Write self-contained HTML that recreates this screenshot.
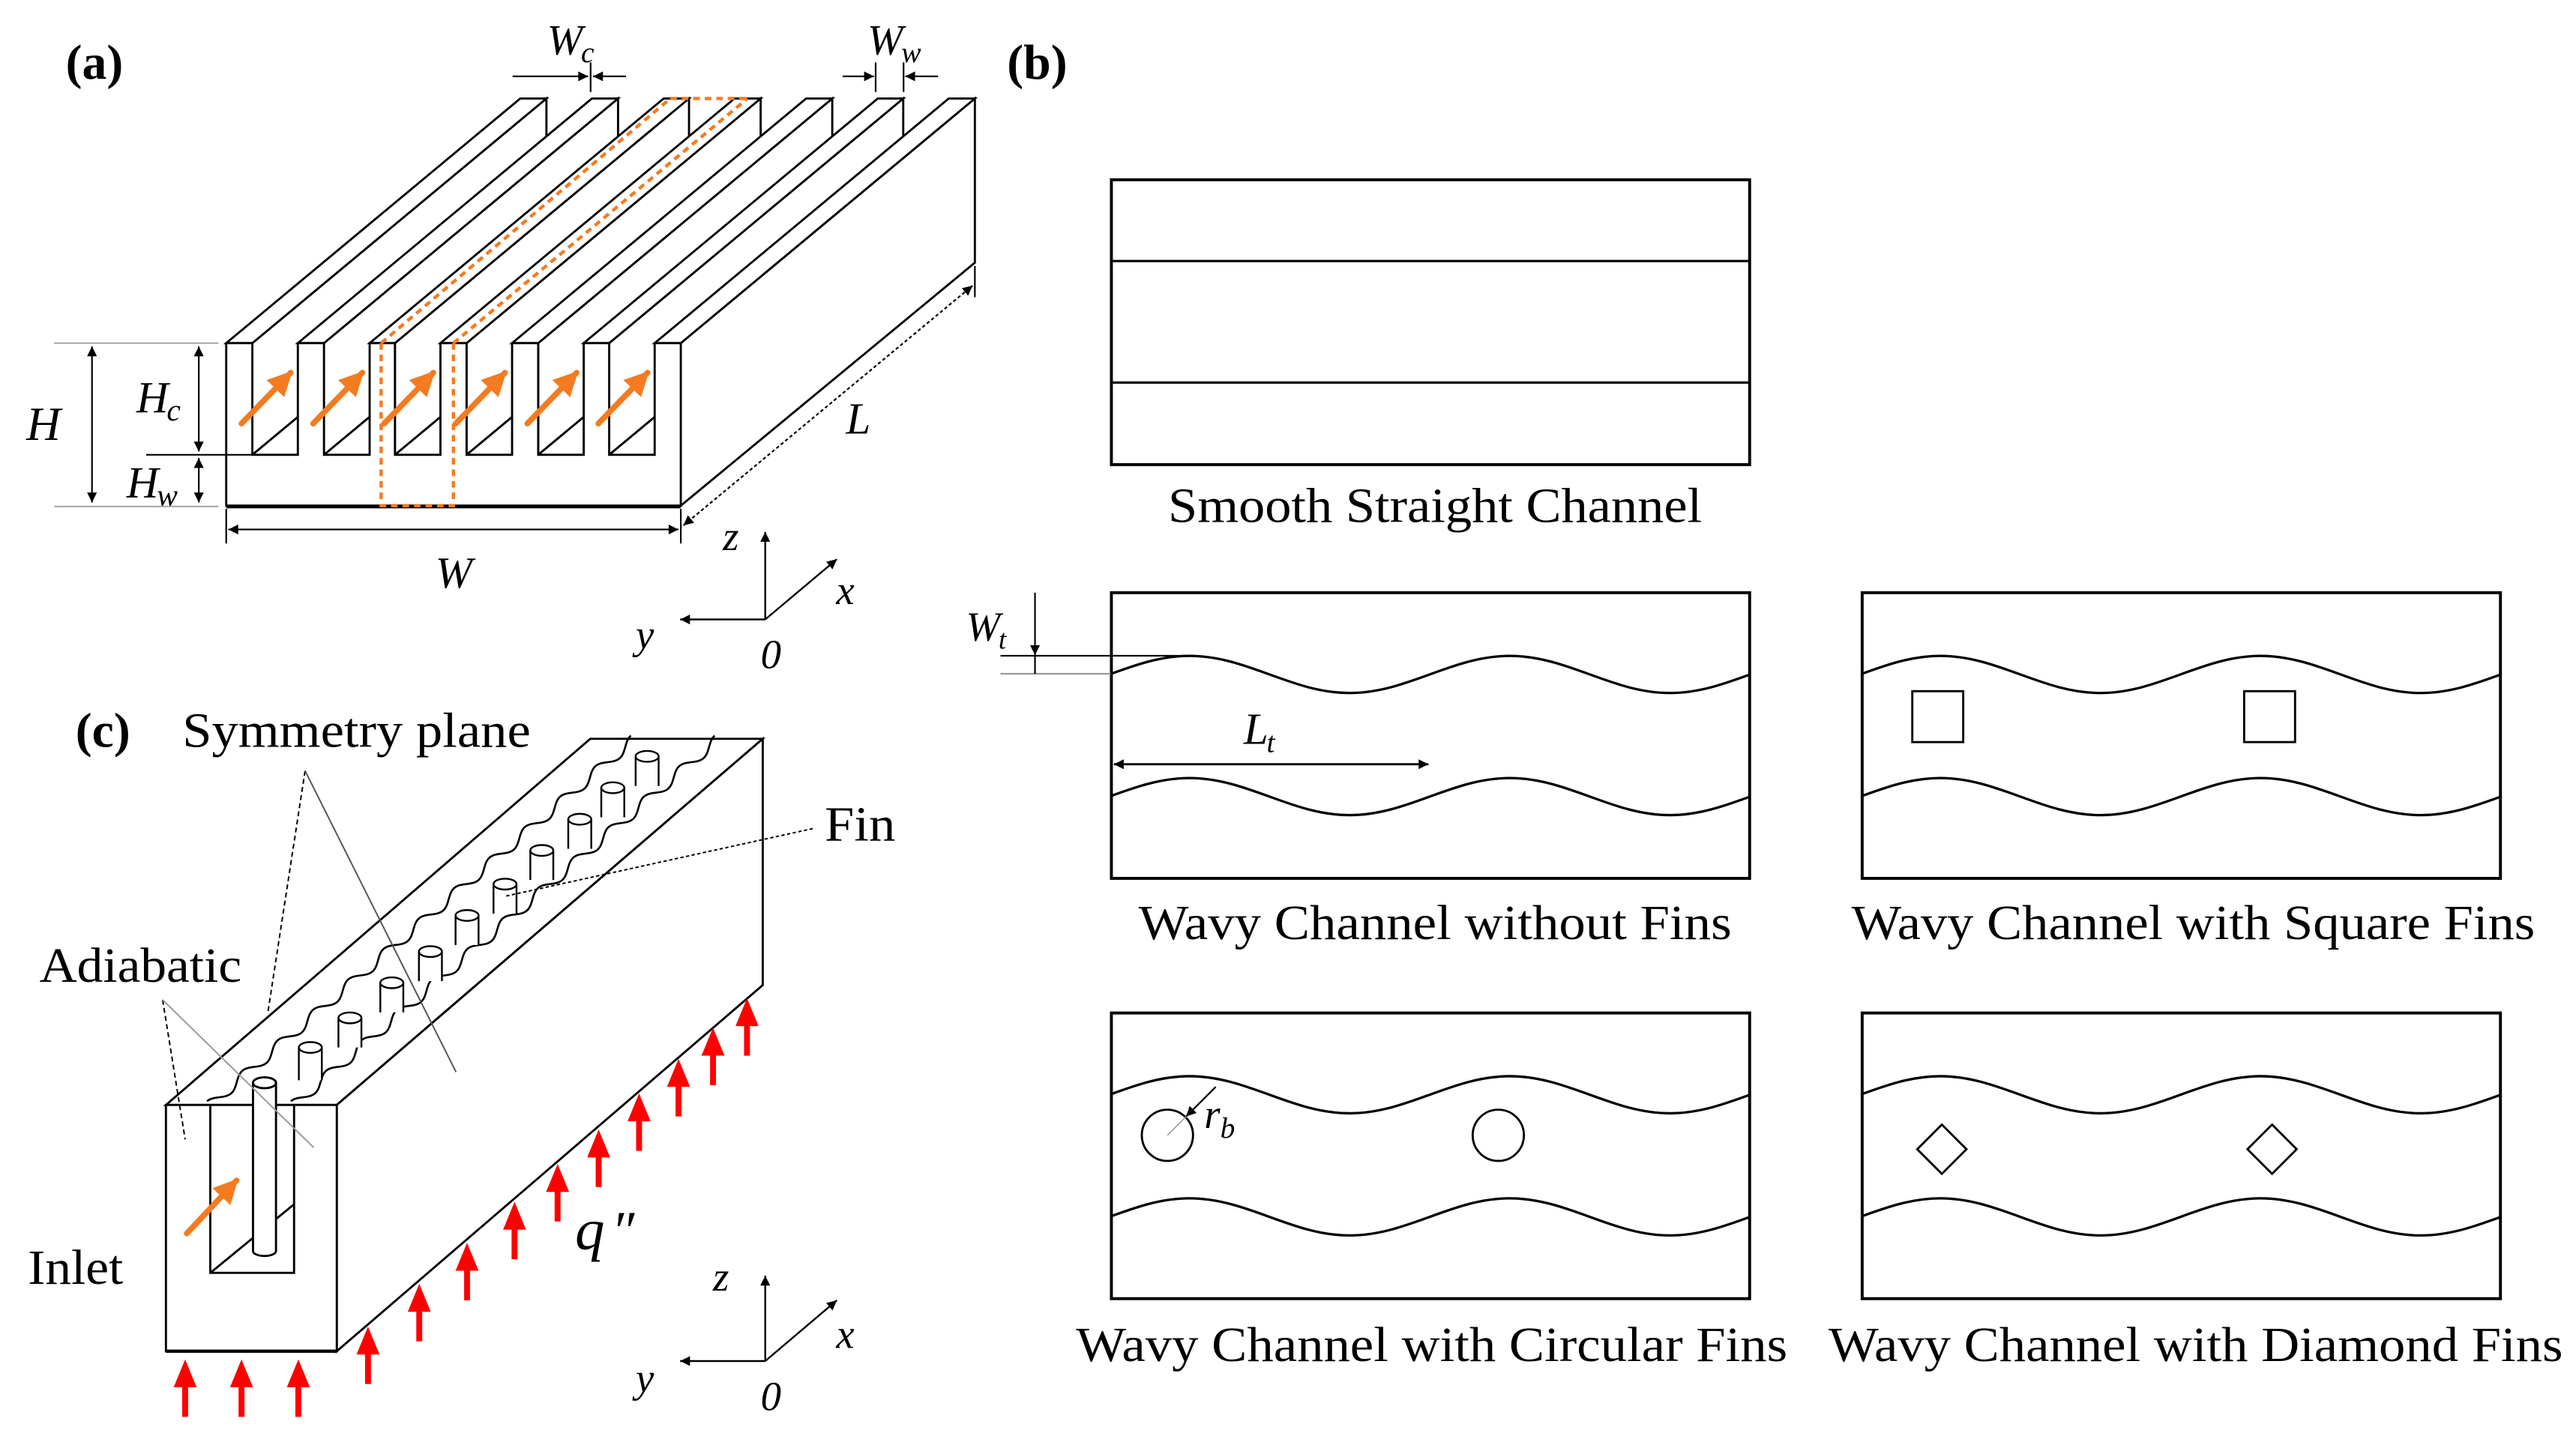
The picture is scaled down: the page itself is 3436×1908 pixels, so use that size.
<!DOCTYPE html>
<html><head><meta charset="utf-8">
<style>
html,body{margin:0;padding:0;background:#fff;}
svg{display:block;}
svg text{font-family:"Liberation Serif","Times New Roman",Times,serif;fill:#000;}
.i{font-style:italic;}
</style></head>
<body>
<svg width="3436" height="1908" viewBox="0 0 1568 871" preserveAspectRatio="none" xmlns="http://www.w3.org/2000/svg" font-family="Liberation Serif, serif">
<defs>
<marker id="ka" viewBox="0 0 10 10" refX="10" refY="5" markerWidth="7" markerHeight="6" markerUnits="userSpaceOnUse" orient="auto-start-reverse"><path d="M0,0 L10,5 L0,10 z" fill="#000"/></marker>
<marker id="oa" viewBox="0 0 10 10" refX="9" refY="5" markerWidth="15" markerHeight="15" markerUnits="userSpaceOnUse" orient="auto"><path d="M0,0 L10,5 L0,10 z" fill="#f47b20"/></marker>
<clipPath id="cw"><rect x="0" y="-30" width="389" height="60"/></clipPath>
<path id="wv" d="M-49.5,11.3 C-14,11.3 12.5,-11.3 48,-11.3 S110,11.3 145.5,11.3 S207.5,-11.3 243,-11.3 S305,11.3 340.5,11.3 S402.5,-11.3 438,-11.3" fill="none" stroke="#000" stroke-width="1.5"/>
<path id="ww" d="M0,-3 C5.2,-3 9,3 14.2,3 S23.2,-3 28.4,-3 S37.4,3 42.6,3 S51.6,-3 56.8,-3 S65.8,3 71,3 S80,-3 85.2,-3 S94.2,3 99.4,3 S108.4,-3 113.6,-3 S122.6,3 127.8,3 S136.8,-3 142,-3 S151,3 156.2,3 S165.2,-3 170.4,-3 S179.4,3 184.6,3 S193.6,-3 198.8,-3 S207.8,3 213,3 S222,-3 227.2,-3 S236.2,3 241.4,3 S250.4,-3 255.6,-3 S264.6,3 269.8,3 S278.8,-3 284,-3 S293,3 298.2,3 S307.2,-3 312.4,-3 S321.4,3 326.6,3 S335.6,-3 340.8,-3" fill="none" stroke="#000" stroke-width="1.2"/>
</defs>

<!-- ================= (a) ================= -->
<text x="40" y="48" font-size="30" font-weight="bold">(a)</text>
<g stroke="#000" stroke-width="1.3" fill="#fff" stroke-linejoin="miter">
<polygon points="153.6,209 332.6,60 332.6,128 153.6,277"/>
<polygon points="137.7,209 153.6,209 332.6,60 316.7,60"/>
<polygon points="197.2,209 376.2,60 376.2,128 197.2,277"/>
<polygon points="181.3,209 197.2,209 376.2,60 360.3,60"/>
<polygon points="240.4,209 419.4,60 419.4,128 240.4,277"/>
<polygon points="225,209 240.4,209 419.4,60 404,60"/>
<polygon points="284,209 463,60 463,128 284,277"/>
<polygon points="268.1,209 284,209 463,60 447.1,60"/>
<polygon points="327.6,209 506.6,60 506.6,128 327.6,277"/>
<polygon points="311.7,209 327.6,209 506.6,60 490.7,60"/>
<polygon points="370.8,209 549.8,60 549.8,128 370.8,277"/>
<polygon points="355.3,209 370.8,209 549.8,60 534.3,60"/>
<polygon points="414.4,209 593.4,60 593.4,160 414.4,308"/>
<polygon points="398.5,209 414.4,209 593.4,60 577.5,60"/>
<path d="M137.7,308 V209 H153.6 V277 H181.3 V209 H197.2 V277 H225 V209 H240.4 V277 H268.1 V209 H284 V277 H311.7 V209 H327.6 V277 H355.3 V209 H370.8 V277 H398.5 V209 H414.4 V308 Z"/>
</g>
<line x1="137.7" y1="308.5" x2="414.4" y2="308.5" stroke="#000" stroke-width="2.2"/>
<g stroke="#000" stroke-width="1.2">
<line x1="153.6" y1="277" x2="181.3" y2="254"/>
<line x1="197.2" y1="277" x2="225" y2="254"/>
<line x1="240.4" y1="277" x2="268.1" y2="254"/>
<line x1="284" y1="277" x2="311.7" y2="254"/>
<line x1="327.6" y1="277" x2="355.3" y2="254"/>
<line x1="370.8" y1="277" x2="398.5" y2="254"/>
</g>
<g stroke="#f47b20" stroke-width="2" stroke-dasharray="4,3" fill="none">
<path d="M232,209 V308 H276 V209"/>
<line x1="232" y1="209" x2="408" y2="60"/>
<line x1="276" y1="209" x2="455" y2="60"/>
<line x1="408" y1="60" x2="455" y2="60"/>
</g>
<g stroke="#f47b20" stroke-width="3.5" stroke-linecap="round" marker-end="url(#oa)">
<line x1="147" y1="258" x2="177" y2="227"/>
<line x1="190.6" y1="258" x2="220.6" y2="227"/>
<line x1="233.8" y1="258" x2="263.8" y2="227"/>
<line x1="277.4" y1="258" x2="307.4" y2="227"/>
<line x1="321" y1="258" x2="351" y2="227"/>
<line x1="364.2" y1="258" x2="394.2" y2="227"/>
</g>
<g stroke="#aaa" stroke-width="1">
<line x1="33" y1="209" x2="133" y2="209"/>
<line x1="33" y1="308.5" x2="133" y2="308.5"/>
</g>
<g stroke="#000" stroke-width="1" fill="none">
<line x1="56" y1="211" x2="56" y2="306" marker-start="url(#ka)" marker-end="url(#ka)"/>
<line x1="121" y1="211" x2="121" y2="275" marker-start="url(#ka)" marker-end="url(#ka)"/>
<line x1="121" y1="279" x2="121" y2="306" marker-start="url(#ka)" marker-end="url(#ka)"/>
<line x1="89" y1="277" x2="153" y2="277"/>
<line x1="137.7" y1="310" x2="137.7" y2="331"/>
<line x1="414.4" y1="310" x2="414.4" y2="331"/>
<line x1="139" y1="322.5" x2="413" y2="322.5" marker-start="url(#ka)" marker-end="url(#ka)"/>
<line x1="593.4" y1="162" x2="593.4" y2="181"/>
<line x1="416" y1="320" x2="592" y2="174" stroke-dasharray="2,1.5" marker-start="url(#ka)" marker-end="url(#ka)"/>
<line x1="312" y1="46.5" x2="358" y2="46.5" marker-end="url(#ka)"/>
<line x1="381" y1="46.5" x2="361" y2="46.5" marker-end="url(#ka)"/>
<line x1="359.5" y1="38" x2="359.5" y2="56"/>
<line x1="513" y1="46.5" x2="532" y2="46.5" marker-end="url(#ka)"/>
<line x1="571" y1="46.5" x2="551" y2="46.5" marker-end="url(#ka)"/>
<line x1="533" y1="38" x2="533" y2="56"/>
<line x1="550" y1="38" x2="550" y2="56"/>
</g>
<text class="i" x="16" y="268" font-size="29">H</text>
<text class="i" x="83" y="251" font-size="27">H<tspan font-size="19" dy="5" dx="-1">c</tspan></text>
<text class="i" x="77" y="303" font-size="27">H<tspan font-size="19" dy="5" dx="-1">w</tspan></text>
<text class="i" x="515" y="264" font-size="27">L</text>
<text class="i" x="265" y="358" font-size="27">W</text>
<text class="i" x="333" y="33" font-size="26">W<tspan font-size="18" dy="5" dx="-1">c</tspan></text>
<text class="i" x="528" y="33" font-size="26">W<tspan font-size="18" dy="5" dx="-1">w</tspan></text>
<g stroke="#000" stroke-width="1.1" fill="none">
<line x1="465.8" y1="377.3" x2="465.8" y2="324" marker-end="url(#ka)"/>
<line x1="465.8" y1="377.3" x2="414" y2="377.3" marker-end="url(#ka)"/>
<line x1="465.8" y1="377.3" x2="509.4" y2="340.6" marker-end="url(#ka)"/>
</g>
<text class="i" x="440" y="335" font-size="25">z</text>
<text class="i" x="509" y="368" font-size="25">x</text>
<text class="i" x="387" y="395" font-size="25">y</text>
<text class="i" x="463" y="407" font-size="25">0</text>

<!-- ================= (b) ================= -->
<text x="613" y="48" font-size="30" font-weight="bold">(b)</text>
<g stroke="#000" stroke-width="1.8" fill="none">
<rect x="676.5" y="109.5" width="388.5" height="173.5"/>
<line x1="676.5" y1="159" x2="1065" y2="159" stroke-width="1.4"/>
<line x1="676.5" y1="233" x2="1065" y2="233" stroke-width="1.4"/>
<rect x="676.5" y="361" width="388.5" height="174"/>
<rect x="1133.5" y="361" width="388.5" height="174"/>
<rect x="676.5" y="617" width="388.5" height="174"/>
<rect x="1133.5" y="617" width="388.5" height="174"/>
</g>
<g transform="translate(676,410.8)"><use href="#wv" clip-path="url(#cw)"/></g>
<g transform="translate(676,485.2)"><use href="#wv" clip-path="url(#cw)"/></g>
<g transform="translate(1133,410.8)"><use href="#wv" clip-path="url(#cw)"/></g>
<g transform="translate(1133,485.2)"><use href="#wv" clip-path="url(#cw)"/></g>
<g transform="translate(676,666.8)"><use href="#wv" clip-path="url(#cw)"/></g>
<g transform="translate(676,741.2)"><use href="#wv" clip-path="url(#cw)"/></g>
<g transform="translate(1133,666.8)"><use href="#wv" clip-path="url(#cw)"/></g>
<g transform="translate(1133,741.2)"><use href="#wv" clip-path="url(#cw)"/></g>
<g stroke="#000" stroke-width="1.3" fill="none">
<rect x="1164" y="421" width="31" height="31"/>
<rect x="1366" y="421" width="31" height="31"/>
<circle cx="710.6" cy="691.5" r="15.6"/>
<circle cx="912" cy="691.5" r="15.6"/>
<polygon points="1182,685 1197,700 1182,715 1167,700"/>
<polygon points="1383,685 1398,700 1383,715 1368,700"/>
</g>
<line x1="710.6" y1="691.5" x2="740" y2="662" stroke="#999" stroke-width="0.7"/>
<line x1="740" y1="662" x2="722" y2="680" stroke="#000" stroke-width="1" marker-end="url(#ka)"/>
<text class="i" x="733" y="687" font-size="25">r<tspan font-size="18" dy="6" dx="0">b</tspan></text>
<g stroke="#000" stroke-width="1" fill="none">
<line x1="609" y1="399.4" x2="722" y2="399.4"/>
<line x1="609" y1="410.4" x2="676" y2="410.4" stroke="#999"/>
<line x1="630" y1="361" x2="630" y2="399" marker-end="url(#ka)"/>
<line x1="630" y1="399" x2="630" y2="410.4"/>
<line x1="678" y1="465.5" x2="869.5" y2="465.5" stroke-width="1.3" marker-start="url(#ka)" marker-end="url(#ka)"/>
</g>
<text class="i" x="588" y="390" font-size="25">W<tspan font-size="17" dy="5" dx="-1">t</tspan></text>
<text class="i" x="757" y="453" font-size="27">L<tspan font-size="18" dy="5" dx="-1">t</tspan></text>
<text x="711" y="318" font-size="30" textLength="325" lengthAdjust="spacingAndGlyphs">Smooth Straight Channel</text>
<text x="693" y="572" font-size="30" textLength="361" lengthAdjust="spacingAndGlyphs">Wavy Channel without Fins</text>
<text x="1127" y="572" font-size="30" textLength="416" lengthAdjust="spacingAndGlyphs">Wavy Channel with Square Fins</text>
<text x="655" y="829" font-size="30" textLength="433" lengthAdjust="spacingAndGlyphs">Wavy Channel with Circular Fins</text>
<text x="1113" y="829" font-size="30" textLength="447" lengthAdjust="spacingAndGlyphs">Wavy Channel with Diamond Fins</text>

<!-- ================= (c) ================= -->
<text x="46" y="455" font-size="30" font-weight="bold">(c)</text>
<g stroke="#000" stroke-width="1.3" fill="#fff">
<polygon points="101,673 205,673 464.3,450 359.3,450"/>
<polygon points="205,673 464.3,450 464.3,600 205,823"/>
</g>
<g transform="translate(128,673) rotate(-40.8)"><use href="#ww"/></g>
<g transform="translate(179,673) rotate(-40.8)"><use href="#ww"/></g>
<g stroke="#000" stroke-width="1.1" fill="#fff">
<g transform="translate(393.9,460.7)"><rect x="-7" y="0" width="14" height="18" stroke="none"/><path d="M-7,0 V18 M7,0 V18" fill="none"/><ellipse cx="0" cy="0" rx="7" ry="3.3"/></g>
<g transform="translate(373,479.8)"><rect x="-7" y="0" width="14" height="18" stroke="none"/><path d="M-7,0 V18 M7,0 V18" fill="none"/><ellipse cx="0" cy="0" rx="7" ry="3.3"/></g>
<g transform="translate(352.9,499)"><rect x="-7" y="0" width="14" height="18" stroke="none"/><path d="M-7,0 V18 M7,0 V18" fill="none"/><ellipse cx="0" cy="0" rx="7" ry="3.3"/></g>
<g transform="translate(329.8,518)"><rect x="-7" y="0" width="14" height="18" stroke="none"/><path d="M-7,0 V18 M7,0 V18" fill="none"/><ellipse cx="0" cy="0" rx="7" ry="3.3"/></g>
<g transform="translate(307.4,538.5)"><rect x="-7" y="0" width="14" height="18" stroke="none"/><path d="M-7,0 V18 M7,0 V18" fill="none"/><ellipse cx="0" cy="0" rx="7" ry="3.3"/></g>
<g transform="translate(284.3,557.6)"><rect x="-7" y="0" width="14" height="18" stroke="none"/><path d="M-7,0 V18 M7,0 V18" fill="none"/><ellipse cx="0" cy="0" rx="7" ry="3.3"/></g>
<g transform="translate(262,579.6)"><rect x="-7" y="0" width="14" height="18" stroke="none"/><path d="M-7,0 V18 M7,0 V18" fill="none"/><ellipse cx="0" cy="0" rx="7" ry="3.3"/></g>
<g transform="translate(238.5,598.6)"><rect x="-7" y="0" width="14" height="18" stroke="none"/><path d="M-7,0 V18 M7,0 V18" fill="none"/><ellipse cx="0" cy="0" rx="7" ry="3.3"/></g>
<g transform="translate(213,620)"><rect x="-7" y="0" width="14" height="18" stroke="none"/><path d="M-7,0 V18 M7,0 V18" fill="none"/><ellipse cx="0" cy="0" rx="7" ry="3.3"/></g>
<g transform="translate(188.9,638)"><rect x="-7" y="0" width="14" height="20" stroke="none"/><path d="M-7,0 V20 M7,0 V20" fill="none"/><ellipse cx="0" cy="0" rx="7" ry="3.3"/></g>
</g>
<g stroke="#000" stroke-width="1.3" fill="#fff">
<rect x="101" y="673" width="104" height="150"/>
<path d="M128,673 V775.3 H179 V673" fill="none"/>
<line x1="128" y1="775.3" x2="179" y2="733.5"/>
<path d="M154,659.5 V762 A7,3 0 0 0 168,762 V659.5 Z"/>
<ellipse cx="161" cy="659.5" rx="7" ry="3.3"/>
</g>
<line x1="101" y1="823" x2="205" y2="823" stroke="#000" stroke-width="2"/>
<line x1="113.7" y1="751.3" x2="144" y2="719" stroke="#f47b20" stroke-width="3.5" stroke-linecap="round" marker-end="url(#oa)"/>
<g fill="none" stroke-width="0.9">
<path d="M185.7,469.5 L163,617" stroke="#000" stroke-dasharray="3,2"/>
<line x1="185.7" y1="469.5" x2="277.6" y2="653" stroke="#555"/>
<path d="M99,609 L112.7,694" stroke="#000" stroke-dasharray="3,2"/>
<line x1="99" y1="609" x2="191" y2="699" stroke="#999"/>
<line x1="494.7" y1="504.7" x2="307" y2="546" stroke="#000" stroke-dasharray="2,1.5"/>
</g>
<g fill="#ff0000">
<g transform="translate(112.7,828)"><polygon points="0,0 -7,17 7,17"/><rect x="-1.8" y="16" width="3.6" height="19"/></g>
<g transform="translate(147,828)"><polygon points="0,0 -7,17 7,17"/><rect x="-1.8" y="16" width="3.6" height="19"/></g>
<g transform="translate(181.6,828)"><polygon points="0,0 -7,17 7,17"/><rect x="-1.8" y="16" width="3.6" height="19"/></g>
<g transform="translate(224,808)"><polygon points="0,0 -7,17 7,17"/><rect x="-1.8" y="16" width="3.6" height="19"/></g>
<g transform="translate(255.2,782)"><polygon points="0,0 -7,17 7,17"/><rect x="-1.8" y="16" width="3.6" height="19"/></g>
<g transform="translate(284.3,757)"><polygon points="0,0 -7,17 7,17"/><rect x="-1.8" y="16" width="3.6" height="19"/></g>
<g transform="translate(313.2,732)"><polygon points="0,0 -7,17 7,17"/><rect x="-1.8" y="16" width="3.6" height="19"/></g>
<g transform="translate(339.4,709)"><polygon points="0,0 -7,17 7,17"/><rect x="-1.8" y="16" width="3.6" height="19"/></g>
<g transform="translate(364.4,688)"><polygon points="0,0 -7,17 7,17"/><rect x="-1.8" y="16" width="3.6" height="19"/></g>
<g transform="translate(389,666)"><polygon points="0,0 -7,17 7,17"/><rect x="-1.8" y="16" width="3.6" height="19"/></g>
<g transform="translate(413,645)"><polygon points="0,0 -7,17 7,17"/><rect x="-1.8" y="16" width="3.6" height="19"/></g>
<g transform="translate(434,626)"><polygon points="0,0 -7,17 7,17"/><rect x="-1.8" y="16" width="3.6" height="19"/></g>
<g transform="translate(454.7,608)"><polygon points="0,0 -7,17 7,17"/><rect x="-1.8" y="16" width="3.6" height="19"/></g>
</g>
<text x="111" y="455" font-size="30" textLength="212" lengthAdjust="spacingAndGlyphs">Symmetry plane</text>
<text x="24" y="598" font-size="30" textLength="123" lengthAdjust="spacingAndGlyphs">Adiabatic</text>
<text x="17" y="782" font-size="30" textLength="58" lengthAdjust="spacingAndGlyphs">Inlet</text>
<text x="502" y="512" font-size="30" textLength="43" lengthAdjust="spacingAndGlyphs">Fin</text>
<text class="i" x="350" y="761" font-size="36">q</text><text class="i" x="372" y="761" font-size="34">″</text>
<g stroke="#000" stroke-width="1.1" fill="none">
<line x1="465.8" y1="829" x2="465.8" y2="777" marker-end="url(#ka)"/>
<line x1="465.8" y1="829" x2="414" y2="829" marker-end="url(#ka)"/>
<line x1="465.8" y1="829" x2="509.4" y2="792" marker-end="url(#ka)"/>
</g>
<text class="i" x="434" y="786" font-size="25">z</text>
<text class="i" x="509" y="821" font-size="25">x</text>
<text class="i" x="387" y="848" font-size="25">y</text>
<text class="i" x="463" y="859" font-size="25">0</text>
</svg>
</body></html>
